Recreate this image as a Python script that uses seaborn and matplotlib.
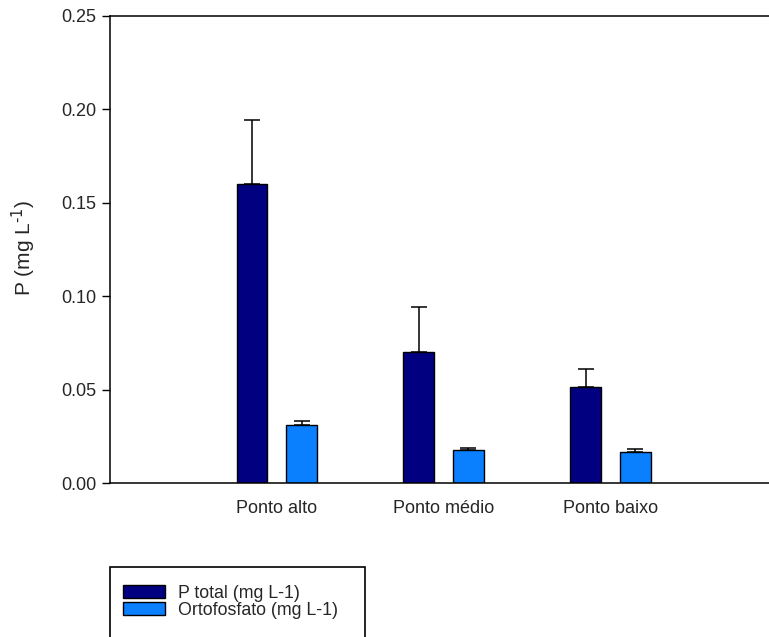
import matplotlib
matplotlib.use("Agg")
import matplotlib.pyplot as plt
from matplotlib.patches import Rectangle
import seaborn as sns
import pandas as pd

# Sampling sites and measured phosphorus forms
sites = ["Ponto alto", "Ponto médio", "Ponto baixo"]
series = ["P total (mg L-1)", "Ortofosfato (mg L-1)"]
p_total = [0.160, 0.070, 0.0515]
p_total_err = [0.0345, 0.0245, 0.0098]
ortho = [0.031, 0.0177, 0.0170]
ortho_err = [0.0022, 0.0013, 0.0013]
palette = ["#000080", "#0A80FF"]

df = pd.DataFrame({
    "site": sites * 2,
    "form": [series[0]] * 3 + [series[1]] * 3,
    "value": p_total + ortho,
})
errors = {series[0]: p_total_err, series[1]: ortho_err}

sns.set_theme(style="white")
plt.rcParams["font.family"] = ["Liberation Sans", "DejaVu Sans"]
plt.rcParams["mathtext.default"] = "regular"

fig = plt.figure(figsize=(7.69, 6.37), dpi=100)
ax = fig.add_axes([110 / 769, 1 - 483.3 / 637, 1 - 110 / 769, (483.3 - 16) / 637])

sns.barplot(data=df, x="site", y="value", hue="form", order=sites,
            hue_order=series, palette=palette, width=0.595, gap=0.38,
            edgecolor="black", linewidth=1.0, saturation=1, errorbar=None,
            legend=False, ax=ax)

# One-sided (upper) error bars positioned on each drawn bar
for container, name in zip(ax.containers, series):
    xs = [b.get_x() + b.get_width() / 2 for b in container]
    hs = [b.get_height() for b in container]
    err = errors[name]
    ax.errorbar(xs, hs, yerr=[[0] * len(err), err], fmt="none",
                ecolor="black", elinewidth=1.1, capsize=5.5, capthick=1.1,
                zorder=1)

ax.set_xlim(-1.0, 2.95)
ax.set_ylim(0, 0.25)
ticks = [0.0, 0.05, 0.10, 0.15, 0.20, 0.25]
ax.set_yticks(ticks)
ax.set_yticklabels([f"{v:.2f}" for v in ticks])
ax.set_xlabel("")
ax.set_ylabel(r"P (mg L$^{\text{-1}}$)", fontsize=15)
ax.yaxis.set_label_coords(-0.109, 0.504)
ax.tick_params(axis="y", which="major", direction="out", length=6, width=1,
               color="black", labelsize=13, pad=4, left=True)
ax.tick_params(axis="x", length=0, labelsize=13, pad=12)

for side in ["left", "bottom", "top"]:
    ax.spines[side].set_visible(True)
    ax.spines[side].set_color("black")
    ax.spines[side].set_linewidth(1.1)
ax.spines["right"].set_visible(False)

# Legend with its own frame below the plot
handles = [Rectangle((0, 0), 1, 1, facecolor=c, edgecolor="black", linewidth=1.0)
           for c in palette]
fig.legend(handles, series, loc="upper left",
           bbox_to_anchor=(123 / 769, 1 - 585 / 637), frameon=False,
           fontsize=12.8, handlelength=2.35, handleheight=0.75,
           handletextpad=0.75, labelspacing=0.0, borderaxespad=0, borderpad=0)
fig.add_artist(Rectangle((110 / 769, 1 - 660 / 637), 255 / 769, 93 / 637,
                         transform=fig.transFigure, facecolor="none",
                         edgecolor="black", linewidth=1.2, clip_on=False))

fig.savefig("out.png", dpi=100)
